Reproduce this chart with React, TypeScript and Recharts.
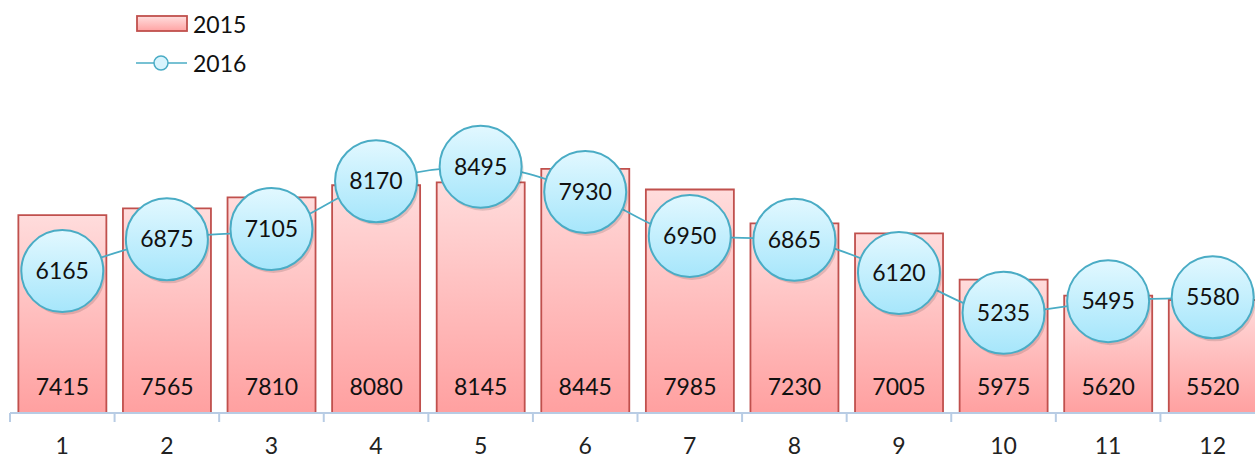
import React from 'react';
import { ComposedChart, Bar, Line, XAxis, YAxis, LabelList } from 'recharts';

const months = ['1', '2', '3', '4', '5', '6', '7', '8', '9', '10', '11', '12'];
const sales2015 = [7415, 7565, 7810, 8080, 8145, 8445, 7985, 7230, 7005, 5975, 5620, 5520];
const sales2016 = [6165, 6875, 7105, 8170, 8495, 7930, 6950, 6865, 6120, 5235, 5495, 5580];

const CHART_W = 1275;
const CHART_H = 459;
const LEFT = 10;
const RIGHT = 10;
const BAND = (CHART_W - LEFT - RIGHT) / months.length;
const FONT = 'Lato, "Open Sans", sans-serif';

const data = months.map((m, i) => ({ month: m, y2015: sales2015[i], y2016: sales2016[i] }));

const AxisTick = (props: any) => {
  const { x, y, payload } = props;
  const left = x - BAND / 2;
  return (
    <g>
      <line x1={left} y1={y} x2={left} y2={y + 9} stroke="#b8cce4" strokeWidth={2} />
      <text x={x} y={y + 41} textAnchor="middle" fontSize={23} fill="#222" fontFamily={FONT}>
        {payload.value}
      </text>
    </g>
  );
};

const BubbleDot = (props: any) => {
  const { cx, cy, value, index } = props;
  if (cx == null || cy == null) return null;
  return (
    <g key={`dot-${index}`}>
      <circle cx={cx + 2} cy={cy + 3} r={41} fill="rgba(0,0,0,0.12)" />
      <circle cx={cx} cy={cy} r={41} fill="url(#bubbleFill)" stroke="#4aacc5" strokeWidth={2} />
      <text x={cx} y={cy + 8} textAnchor="middle" fontSize={23} fill="#111" fontFamily={FONT}>
        {value}
      </text>
    </g>
  );
};

const BarValue = (props: any) => {
  const { x, y, width, height, value } = props;
  return (
    <text x={x + width / 2} y={y + height - 18} textAnchor="middle" fontSize={23} fill="#111" fontFamily={FONT}>
      {value}
    </text>
  );
};

const LegendBlock = () => (
  <div style={{ position: 'absolute', left: 136, top: 9, fontFamily: FONT, fontSize: 23, color: '#111' }}>
    <div style={{ display: 'flex', alignItems: 'center', height: 30 }}>
      <svg width={54} height={20}>
        <defs>
          <linearGradient id="legBar" x1="0" y1="0" x2="0" y2="1">
            <stop offset="0%" stopColor="#ffdede" />
            <stop offset="100%" stopColor="#ffa3a3" />
          </linearGradient>
        </defs>
        <rect x={1} y={2} width={50} height={15} fill="url(#legBar)" stroke="#c0504d" strokeWidth={1.8} />
      </svg>
      <span style={{ marginLeft: 3 }}>2015</span>
    </div>
    <div style={{ display: 'flex', alignItems: 'center', height: 30, marginTop: 9 }}>
      <svg width={54} height={20}>
        <line x1={0} y1={10} x2={51} y2={10} stroke="#4aacc5" strokeWidth={1.5} />
        <circle cx={25} cy={10} r={7} fill="#d8f4fd" stroke="#4aacc5" strokeWidth={1.5} />
      </svg>
      <span style={{ marginLeft: 3 }}>2016</span>
    </div>
  </div>
);

export default function App() {
  return (
    <div style={{ position: 'fixed', left: 0, top: 0, width: 1255, height: 459, overflow: 'hidden', background: '#fff' }}>
      <ComposedChart
        width={CHART_W}
        height={CHART_H}
        data={data}
        margin={{ top: 144, right: RIGHT, bottom: 0, left: LEFT }}
        barCategoryGap="8%"
      >
        <defs>
          <linearGradient id="barFill" x1="0" y1="0" x2="0" y2="1">
            <stop offset="0%" stopColor="#ffdcdc" />
            <stop offset="100%" stopColor="#ffa0a0" />
          </linearGradient>
          <linearGradient id="bubbleFill" x1="0" y1="0" x2="0" y2="1">
            <stop offset="0%" stopColor="#e2f8ff" />
            <stop offset="100%" stopColor="#a6e6fb" />
          </linearGradient>
        </defs>
        <XAxis
          dataKey="month"
          height={46}
          tickLine={false}
          tickSize={0}
          tickMargin={0}
          axisLine={{ stroke: '#b8cce4', strokeWidth: 2 }}
          tick={<AxisTick />}
          interval={0}
        />
        <YAxis hide domain={[3000, 9000]} />
        <Bar dataKey="y2015" fill="url(#barFill)" stroke="#c0504d" strokeWidth={1.8} isAnimationActive={false}>
          <LabelList dataKey="y2015" content={<BarValue />} />
        </Bar>
        <Line
          dataKey="y2016"
          type="monotone"
          stroke="#4aacc5"
          strokeWidth={1.8}
          dot={<BubbleDot />}
          activeDot={false}
          isAnimationActive={false}
        />
      </ComposedChart>
      <LegendBlock />
    </div>
  );
}
